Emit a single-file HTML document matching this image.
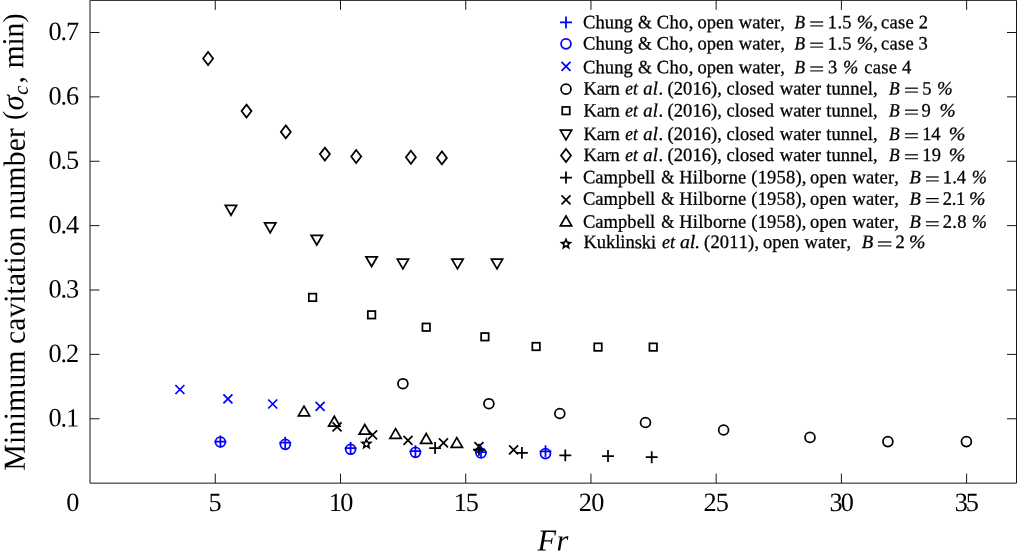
<!DOCTYPE html>
<html lang="en">
<head>
<meta charset="utf-8">
<title>Minimum cavitation number vs Fr</title>
<style>
html,body{margin:0;padding:0;background:#fff;}
body{width:1017px;height:557px;overflow:hidden;}
svg{display:block;will-change:transform;}
text{white-space:pre;font-kerning:none;text-rendering:geometricPrecision;}
</style>
</head>
<body>
<svg width="1017" height="557" viewBox="0 0 1017 557">
<rect width="1017" height="557" fill="#fff"/>
<g fill="none" stroke="#161616" stroke-width="1.0" stroke-linejoin="round">
<rect x="90.0" y="0.35" width="926.50" height="482.80"/>
<path d="M215.28 483.15V473.65M215.28 0.35V9.85M340.50 483.15V473.65M340.50 0.35V9.85M465.73 483.15V473.65M465.73 0.35V9.85M590.95 483.15V473.65M590.95 0.35V9.85M716.17 483.15V473.65M716.17 0.35V9.85M841.40 483.15V473.65M841.40 0.35V9.85M966.62 483.15V473.65M966.62 0.35V9.85M90.0 418.77H99.5M1016.5 418.77H1007.0M90.0 354.39H99.5M1016.5 354.39H1007.0M90.0 290.01H99.5M1016.5 290.01H1007.0M90.0 225.63H99.5M1016.5 225.63H1007.0M90.0 161.25H99.5M1016.5 161.25H1007.0M90.0 96.87H99.5M1016.5 96.87H1007.0M90.0 32.49H99.5M1016.5 32.49H1007.0"/>
</g>
<g font-family="'Liberation Serif', 'Times New Roman', serif" font-size="26.3" fill="#000">
<text transform="matrix(1 0.0005 0 1 66.30 510.9)">0</text>
<text transform="matrix(1 0.0005 0 1 208.57 510.9)">5</text>
<text transform="matrix(1 0.0005 0 1 328.69 510.9)" letter-spacing="-1.587">10</text>
<text transform="matrix(1 0.0005 0 1 453.79 510.9)" letter-spacing="-1.261">15</text>
<text transform="matrix(1 0.0005 0 1 578.84 510.9)" letter-spacing="-0.643">20</text>
<text transform="matrix(1 0.0005 0 1 703.54 510.9)" letter-spacing="-0.817">25</text>
<text transform="matrix(1 0.0005 0 1 829.44 510.9)" letter-spacing="-1.740">30</text>
<text transform="matrix(1 0.0005 0 1 954.84 510.9)" letter-spacing="-2.314">35</text>
<text transform="matrix(1 0.0005 0 1 48.4 426.37)" letter-spacing="-1.05">0.1</text>
<text transform="matrix(1 0.0005 0 1 48.4 361.99)" letter-spacing="-1.05">0.2</text>
<text transform="matrix(1 0.0005 0 1 48.4 297.61)" letter-spacing="-1.05">0.3</text>
<text transform="matrix(1 0.0005 0 1 48.4 233.23)" letter-spacing="-1.05">0.4</text>
<text transform="matrix(1 0.0005 0 1 48.4 168.85)" letter-spacing="-1.05">0.5</text>
<text transform="matrix(1 0.0005 0 1 48.4 104.47)" letter-spacing="-1.05">0.6</text>
<text transform="matrix(1 0.0005 0 1 48.4 40.09)" letter-spacing="-1.05">0.7</text>
</g>
<g font-family="'Liberation Serif', 'Times New Roman', serif" font-size="29.5" fill="#000">
<text transform="matrix(1 0.0005 0 1 537.6 550.5)" font-style="italic" font-size="30.4" letter-spacing="0.3">Fr</text>
<g transform="matrix(0.0005 -0.965 1 0 23.2 0)" font-size="30.6">
<text x="-487.62" y="1.7" letter-spacing="0.342">Minimum</text>
<text x="-356.40" y="1.7" letter-spacing="0.091">cavitation</text>
<text x="-227.49" y="1.7" letter-spacing="0.266">number</text>
<text x="-124.45" y="-0.8" font-size="28.2">(</text>
<text x="-114.53" y="0" font-style="italic" font-size="32">σ</text>
<text x="-98.26" y="4.5" font-style="italic" font-size="21">c</text>
<text x="-86.55" y="0">,</text>
<text x="-70.69" y="0" letter-spacing="-0.192">min</text>
<text x="-23.19" y="-0.8" font-size="28.2">)</text>
</g>
</g>
<path d="M175.40 385.00L184.40 394.00M175.40 394.00L184.40 385.00" fill="none" stroke="#0000ff" stroke-width="1.75"/>
<path d="M223.40 394.30L232.40 403.30M223.40 403.30L232.40 394.30" fill="none" stroke="#0000ff" stroke-width="1.75"/>
<path d="M268.20 399.50L277.20 408.50M268.20 408.50L277.20 399.50" fill="none" stroke="#0000ff" stroke-width="1.75"/>
<path d="M315.60 401.90L324.60 410.90M315.60 410.90L324.60 401.90" fill="none" stroke="#0000ff" stroke-width="1.75"/>
<circle cx="220.40" cy="442.00" r="4.95" fill="none" stroke="#0000ff" stroke-width="1.75"/>
<path d="M214.45 441.50H226.35M220.40 435.55V447.45" fill="none" stroke="#0000ff" stroke-width="1.75"/>
<circle cx="285.30" cy="444.35" r="4.95" fill="none" stroke="#0000ff" stroke-width="1.75"/>
<path d="M279.25 442.70H291.15M285.20 436.75V448.65" fill="none" stroke="#0000ff" stroke-width="1.75"/>
<circle cx="350.60" cy="449.30" r="4.95" fill="none" stroke="#0000ff" stroke-width="1.75"/>
<path d="M344.65 448.00H356.55M350.60 442.05V453.95" fill="none" stroke="#0000ff" stroke-width="1.75"/>
<circle cx="415.45" cy="452.35" r="4.95" fill="none" stroke="#0000ff" stroke-width="1.75"/>
<path d="M409.45 451.10H421.35M415.40 445.15V457.05" fill="none" stroke="#0000ff" stroke-width="1.75"/>
<circle cx="481.00" cy="453.00" r="4.95" fill="none" stroke="#0000ff" stroke-width="1.75"/>
<path d="M475.05 452.00H486.95M481.00 446.05V457.95" fill="none" stroke="#0000ff" stroke-width="1.75"/>
<circle cx="545.50" cy="453.60" r="4.95" fill="none" stroke="#0000ff" stroke-width="1.75"/>
<path d="M539.55 451.30H551.45M545.50 445.35V457.25" fill="none" stroke="#0000ff" stroke-width="1.75"/>
<path d="M208.10 52.00L213.10 58.50L208.10 65.00L203.10 58.50Z" fill="none" stroke="#000" stroke-width="1.75"/>
<path d="M246.50 104.60L251.50 111.10L246.50 117.60L241.50 111.10Z" fill="none" stroke="#000" stroke-width="1.75"/>
<path d="M285.80 125.40L290.80 131.90L285.80 138.40L280.80 131.90Z" fill="none" stroke="#000" stroke-width="1.75"/>
<path d="M324.90 147.60L329.90 154.10L324.90 160.60L319.90 154.10Z" fill="none" stroke="#000" stroke-width="1.75"/>
<path d="M356.20 150.00L361.20 156.50L356.20 163.00L351.20 156.50Z" fill="none" stroke="#000" stroke-width="1.75"/>
<path d="M410.90 150.80L415.90 157.30L410.90 163.80L405.90 157.30Z" fill="none" stroke="#000" stroke-width="1.75"/>
<path d="M441.90 151.40L446.90 157.90L441.90 164.40L436.90 157.90Z" fill="none" stroke="#000" stroke-width="1.75"/>
<path d="M225.37 205.40L236.63 205.40L231.00 215.14Z" fill="none" stroke="#000" stroke-width="1.75"/>
<path d="M264.57 222.90L275.83 222.90L270.20 232.64Z" fill="none" stroke="#000" stroke-width="1.75"/>
<path d="M311.17 235.30L322.43 235.30L316.80 245.04Z" fill="none" stroke="#000" stroke-width="1.75"/>
<path d="M365.97 256.80L377.23 256.80L371.60 266.54Z" fill="none" stroke="#000" stroke-width="1.75"/>
<path d="M397.27 259.10L408.53 259.10L402.90 268.84Z" fill="none" stroke="#000" stroke-width="1.75"/>
<path d="M451.87 259.10L463.13 259.10L457.50 268.84Z" fill="none" stroke="#000" stroke-width="1.75"/>
<path d="M491.37 259.10L502.63 259.10L497.00 268.84Z" fill="none" stroke="#000" stroke-width="1.75"/>
<rect x="308.85" y="293.65" width="7.5" height="7.5" fill="none" stroke="#000" stroke-width="1.75"/>
<rect x="367.85" y="311.05" width="7.5" height="7.5" fill="none" stroke="#000" stroke-width="1.75"/>
<rect x="422.45" y="323.45" width="7.5" height="7.5" fill="none" stroke="#000" stroke-width="1.75"/>
<rect x="481.15" y="333.05" width="7.5" height="7.5" fill="none" stroke="#000" stroke-width="1.75"/>
<rect x="532.35" y="342.75" width="7.5" height="7.5" fill="none" stroke="#000" stroke-width="1.75"/>
<rect x="594.25" y="343.35" width="7.5" height="7.5" fill="none" stroke="#000" stroke-width="1.75"/>
<rect x="649.45" y="343.35" width="7.5" height="7.5" fill="none" stroke="#000" stroke-width="1.75"/>
<circle cx="402.90" cy="383.70" r="4.95" fill="none" stroke="#000" stroke-width="1.75"/>
<circle cx="488.90" cy="403.70" r="4.95" fill="none" stroke="#000" stroke-width="1.75"/>
<circle cx="559.80" cy="413.50" r="4.95" fill="none" stroke="#000" stroke-width="1.75"/>
<circle cx="645.50" cy="422.50" r="4.95" fill="none" stroke="#000" stroke-width="1.75"/>
<circle cx="723.60" cy="430.00" r="4.95" fill="none" stroke="#000" stroke-width="1.75"/>
<circle cx="810.00" cy="437.40" r="4.95" fill="none" stroke="#000" stroke-width="1.75"/>
<circle cx="887.90" cy="441.60" r="4.95" fill="none" stroke="#000" stroke-width="1.75"/>
<circle cx="966.40" cy="441.60" r="4.95" fill="none" stroke="#000" stroke-width="1.75"/>
<path d="M298.37 415.90L309.63 415.90L304.00 406.16Z" fill="none" stroke="#000" stroke-width="1.75"/>
<path d="M328.67 426.00L339.93 426.00L334.30 416.26Z" fill="none" stroke="#000" stroke-width="1.75"/>
<path d="M359.17 434.20L370.43 434.20L364.80 424.46Z" fill="none" stroke="#000" stroke-width="1.75"/>
<path d="M389.97 438.40L401.23 438.40L395.60 428.66Z" fill="none" stroke="#000" stroke-width="1.75"/>
<path d="M420.57 443.30L431.83 443.30L426.20 433.56Z" fill="none" stroke="#000" stroke-width="1.75"/>
<path d="M451.17 447.40L462.43 447.40L456.80 437.66Z" fill="none" stroke="#000" stroke-width="1.75"/>
<path d="M332.60 422.40L341.60 431.40M332.60 431.40L341.60 422.40" fill="none" stroke="#000" stroke-width="1.75"/>
<path d="M368.10 430.40L377.10 439.40M368.10 439.40L377.10 430.40" fill="none" stroke="#000" stroke-width="1.75"/>
<path d="M403.50 435.90L412.50 444.90M403.50 444.90L412.50 435.90" fill="none" stroke="#000" stroke-width="1.75"/>
<path d="M439.00 438.40L448.00 447.40M439.00 447.40L448.00 438.40" fill="none" stroke="#000" stroke-width="1.75"/>
<path d="M474.40 442.20L483.40 451.20M474.40 451.20L483.40 442.20" fill="none" stroke="#000" stroke-width="1.75"/>
<path d="M509.10 445.30L518.10 454.30M509.10 454.30L518.10 445.30" fill="none" stroke="#000" stroke-width="1.75"/>
<path d="M429.15 448.00H441.05M435.10 442.05V453.95" fill="none" stroke="#000" stroke-width="1.75"/>
<path d="M472.95 449.70H484.85M478.90 443.75V455.65" fill="none" stroke="#000" stroke-width="1.75"/>
<path d="M515.95 452.90H527.85M521.90 446.95V458.85" fill="none" stroke="#000" stroke-width="1.75"/>
<path d="M559.35 455.40H571.25M565.30 449.45V461.35" fill="none" stroke="#000" stroke-width="1.75"/>
<path d="M602.05 456.00H613.95M608.00 450.05V461.95" fill="none" stroke="#000" stroke-width="1.75"/>
<path d="M645.75 457.20H657.65M651.70 451.25V463.15" fill="none" stroke="#000" stroke-width="1.75"/>
<path d="M366.40 437.10L368.13 441.51L372.87 441.80L369.21 444.81L370.40 449.40L366.40 446.85L362.40 449.40L363.59 444.81L359.93 441.80L364.67 441.51ZM366.40 445.70L364.69 444.46L365.34 442.44L367.46 442.44L368.11 444.46Z" fill="#000" fill-rule="evenodd" stroke="none"/>
<path d="M560.05 22.45H571.95M566.00 16.50V28.40" fill="none" stroke="#0000ff" stroke-width="1.75"/>
<circle cx="566.00" cy="43.80" r="4.95" fill="none" stroke="#0000ff" stroke-width="1.75"/>
<path d="M561.50 61.80L570.50 70.80M561.50 70.80L570.50 61.80" fill="none" stroke="#0000ff" stroke-width="1.75"/>
<circle cx="566.00" cy="89.15" r="4.95" fill="none" stroke="#000" stroke-width="1.75"/>
<rect x="562.25" y="106.95" width="7.5" height="7.5" fill="none" stroke="#000" stroke-width="1.75"/>
<path d="M560.37 130.10L571.63 130.10L566.00 139.84Z" fill="none" stroke="#000" stroke-width="1.75"/>
<path d="M566.00 149.00L571.00 155.50L566.00 162.00L561.00 155.50Z" fill="none" stroke="#000" stroke-width="1.75"/>
<path d="M560.05 177.50H571.95M566.00 171.55V183.45" fill="none" stroke="#000" stroke-width="1.75"/>
<path d="M561.50 195.40L570.50 204.40M561.50 204.40L570.50 195.40" fill="none" stroke="#000" stroke-width="1.75"/>
<path d="M560.37 225.80L571.63 225.80L566.00 216.06Z" fill="none" stroke="#000" stroke-width="1.75"/>
<path d="M566.00 237.20L567.73 241.61L572.47 241.90L568.81 244.91L570.00 249.50L566.00 246.95L562.00 249.50L563.19 244.91L559.53 241.90L564.27 241.61ZM566.00 245.80L564.29 244.56L564.94 242.54L567.06 242.54L567.71 244.56Z" fill="#000" fill-rule="evenodd" stroke="none"/>
<g font-family="'Liberation Serif', 'Times New Roman', serif" font-size="18.9" fill="#000" stroke="#000" stroke-width="0.28">
<text transform="matrix(0.9800 0.0005 0 1 583.04 28.2)" letter-spacing="0.080">Chung</text>
<text transform="matrix(0.9384 0.0005 0 1 638.12 28.2)">&amp;</text>
<text transform="matrix(0.9800 0.0005 0 1 656.74 28.2)" letter-spacing="0.381">Cho,</text>
<text transform="matrix(0.9800 0.0005 0 1 697.39 28.2)" letter-spacing="0.028">open</text>
<text transform="matrix(0.9800 0.0005 0 1 738.78 28.2)" letter-spacing="0.056">water,</text>
<text transform="matrix(0.9129 0.0005 0 1 794.54 28.2)" font-style="italic">B</text>
<text transform="translate(809.28 30.3) matrix(1.399 0.0005 0 1 0 0)" x="0" y="0" stroke="#000" stroke-width="0.35">=</text>
<text transform="matrix(0.9800 0.0005 0 1 827.87 28.2)" letter-spacing="0.306">1.5</text>
<text transform="matrix(1.0527 0.0005 0 1 856.86 28.2)" font-style="italic">%</text>
<text transform="matrix(0.9800 0.0005 0 1 873.19 28.2)">,</text>
<text transform="matrix(0.9800 0.0005 0 1 880.89 28.2)" letter-spacing="0.298">case</text>
<text transform="matrix(0.9800 0.0005 0 1 918.69 28.2)">2</text>
<text transform="matrix(0.9800 0.0005 0 1 583.04 49.5)" letter-spacing="0.080">Chung</text>
<text transform="matrix(0.9384 0.0005 0 1 638.12 49.5)">&amp;</text>
<text transform="matrix(0.9800 0.0005 0 1 656.74 49.5)" letter-spacing="0.381">Cho,</text>
<text transform="matrix(0.9800 0.0005 0 1 697.39 49.5)" letter-spacing="0.028">open</text>
<text transform="matrix(0.9800 0.0005 0 1 738.78 49.5)" letter-spacing="0.056">water,</text>
<text transform="matrix(0.9129 0.0005 0 1 794.54 49.5)" font-style="italic">B</text>
<text transform="translate(809.28 51.6) matrix(1.399 0.0005 0 1 0 0)" x="0" y="0" stroke="#000" stroke-width="0.35">=</text>
<text transform="matrix(0.9800 0.0005 0 1 827.87 49.5)" letter-spacing="0.306">1.5</text>
<text transform="matrix(1.0527 0.0005 0 1 856.86 49.5)" font-style="italic">%</text>
<text transform="matrix(0.9800 0.0005 0 1 873.19 49.5)">,</text>
<text transform="matrix(0.9800 0.0005 0 1 880.89 49.5)" letter-spacing="0.298">case</text>
<text transform="matrix(0.9800 0.0005 0 1 918.61 49.5)">3</text>
<text transform="matrix(0.9800 0.0005 0 1 583.04 73.25)" letter-spacing="0.080">Chung</text>
<text transform="matrix(0.9384 0.0005 0 1 638.12 73.25)">&amp;</text>
<text transform="matrix(0.9800 0.0005 0 1 656.74 73.25)" letter-spacing="0.381">Cho,</text>
<text transform="matrix(0.9800 0.0005 0 1 697.39 73.25)" letter-spacing="0.028">open</text>
<text transform="matrix(0.9800 0.0005 0 1 738.78 73.25)" letter-spacing="0.056">water,</text>
<text transform="matrix(0.9129 0.0005 0 1 794.54 73.25)" font-style="italic">B</text>
<text transform="translate(809.28 75.35) matrix(1.399 0.0005 0 1 0 0)" x="0" y="0" stroke="#000" stroke-width="0.35">=</text>
<text transform="matrix(0.9800 0.0005 0 1 827.91 73.25)">3</text>
<text transform="matrix(0.9717 0.0005 0 1 842.95 73.25)" font-style="italic">%</text>
<text transform="matrix(0.9800 0.0005 0 1 864.19 73.25)" letter-spacing="0.298">case</text>
<text transform="matrix(0.9800 0.0005 0 1 901.94 73.25)">4</text>
<text transform="matrix(0.9800 0.0005 0 1 583.47 94.4)" letter-spacing="-0.208">Karn</text>
<text transform="matrix(0.9154 0.0005 0 1 625.37 94.4)" font-style="italic">et</text>
<text transform="matrix(0.9800 0.0005 0 1 643.35 94.4)" font-style="italic" letter-spacing="0.053">al</text>
<text transform="matrix(0.9800 0.0005 0 1 658.38 94.4)">.</text>
<text transform="matrix(0.9800 0.0005 0 1 667.59 94.4)" letter-spacing="0.046">(2016),</text>
<text transform="matrix(0.9800 0.0005 0 1 726.39 94.4)" letter-spacing="0.074">closed</text>
<text transform="matrix(0.9800 0.0005 0 1 779.78 94.4)">water</text>
<text transform="matrix(0.9800 0.0005 0 1 826.22 94.4)" letter-spacing="0.089">tunnel,</text>
<text transform="matrix(0.9220 0.0005 0 1 889.04 94.4)" font-style="italic">B</text>
<text transform="translate(904.08 96.5) matrix(1.399 0.0005 0 1 0 0)" x="0" y="0" stroke="#000" stroke-width="0.35">=</text>
<text transform="matrix(0.9800 0.0005 0 1 922.32 94.4)">5</text>
<text transform="matrix(0.9938 0.0005 0 1 937.03 94.4)" font-style="italic">%</text>
<text transform="matrix(0.9800 0.0005 0 1 583.47 116.4)" letter-spacing="-0.208">Karn</text>
<text transform="matrix(0.9154 0.0005 0 1 625.37 116.4)" font-style="italic">et</text>
<text transform="matrix(0.9800 0.0005 0 1 643.35 116.4)" font-style="italic" letter-spacing="0.053">al</text>
<text transform="matrix(0.9800 0.0005 0 1 658.38 116.4)">.</text>
<text transform="matrix(0.9800 0.0005 0 1 667.59 116.4)" letter-spacing="0.046">(2016),</text>
<text transform="matrix(0.9800 0.0005 0 1 726.39 116.4)" letter-spacing="0.074">closed</text>
<text transform="matrix(0.9800 0.0005 0 1 779.78 116.4)">water</text>
<text transform="matrix(0.9800 0.0005 0 1 826.22 116.4)" letter-spacing="0.089">tunnel,</text>
<text transform="matrix(0.9220 0.0005 0 1 889.04 116.4)" font-style="italic">B</text>
<text transform="translate(904.08 118.5) matrix(1.399 0.0005 0 1 0 0)" x="0" y="0" stroke="#000" stroke-width="0.35">=</text>
<text transform="matrix(0.9800 0.0005 0 1 921.50 116.4)">9</text>
<text transform="matrix(1.0232 0.0005 0 1 939.50 116.4)" font-style="italic">%</text>
<text transform="matrix(0.9800 0.0005 0 1 583.47 139.9)" letter-spacing="-0.208">Karn</text>
<text transform="matrix(0.9154 0.0005 0 1 625.37 139.9)" font-style="italic">et</text>
<text transform="matrix(0.9800 0.0005 0 1 643.35 139.9)" font-style="italic" letter-spacing="0.053">al</text>
<text transform="matrix(0.9800 0.0005 0 1 658.38 139.9)">.</text>
<text transform="matrix(0.9800 0.0005 0 1 667.59 139.9)" letter-spacing="0.046">(2016),</text>
<text transform="matrix(0.9800 0.0005 0 1 726.39 139.9)" letter-spacing="0.074">closed</text>
<text transform="matrix(0.9800 0.0005 0 1 779.78 139.9)">water</text>
<text transform="matrix(0.9800 0.0005 0 1 826.22 139.9)" letter-spacing="0.089">tunnel,</text>
<text transform="matrix(0.9220 0.0005 0 1 889.04 139.9)" font-style="italic">B</text>
<text transform="translate(904.08 142.0) matrix(1.399 0.0005 0 1 0 0)" x="0" y="0" stroke="#000" stroke-width="0.35">=</text>
<text transform="matrix(0.9800 0.0005 0 1 922.17 139.9)" letter-spacing="-0.107">14</text>
<text transform="matrix(1.0600 0.0005 0 1 948.76 139.9)" font-style="italic">%</text>
<text transform="matrix(0.9800 0.0005 0 1 583.47 160.9)" letter-spacing="-0.208">Karn</text>
<text transform="matrix(0.9154 0.0005 0 1 625.37 160.9)" font-style="italic">et</text>
<text transform="matrix(0.9800 0.0005 0 1 643.35 160.9)" font-style="italic" letter-spacing="0.053">al</text>
<text transform="matrix(0.9800 0.0005 0 1 658.38 160.9)">.</text>
<text transform="matrix(0.9800 0.0005 0 1 667.59 160.9)" letter-spacing="0.046">(2016),</text>
<text transform="matrix(0.9800 0.0005 0 1 726.39 160.9)" letter-spacing="0.074">closed</text>
<text transform="matrix(0.9800 0.0005 0 1 779.78 160.9)">water</text>
<text transform="matrix(0.9800 0.0005 0 1 826.22 160.9)" letter-spacing="0.089">tunnel,</text>
<text transform="matrix(0.9220 0.0005 0 1 889.04 160.9)" font-style="italic">B</text>
<text transform="translate(904.08 163.0) matrix(1.399 0.0005 0 1 0 0)" x="0" y="0" stroke="#000" stroke-width="0.35">=</text>
<text transform="matrix(0.9800 0.0005 0 1 922.17 160.9)" letter-spacing="0.373">19</text>
<text transform="matrix(1.0600 0.0005 0 1 948.76 160.9)" font-style="italic">%</text>
<text transform="matrix(0.9800 0.0005 0 1 582.94 183.25)" letter-spacing="0.046">Campbell</text>
<text transform="matrix(0.8871 0.0005 0 1 661.16 183.25)">&amp;</text>
<text transform="matrix(0.9800 0.0005 0 1 679.32 183.25)" letter-spacing="0.173">Hilborne</text>
<text transform="matrix(0.9800 0.0005 0 1 751.29 183.25)" letter-spacing="0.199">(1958),</text>
<text transform="matrix(0.9800 0.0005 0 1 810.09 183.25)" letter-spacing="0.130">open</text>
<text transform="matrix(0.9800 0.0005 0 1 852.38 183.25)" letter-spacing="0.147">water,</text>
<text transform="matrix(0.9768 0.0005 0 1 909.53 183.25)" font-style="italic">B</text>
<text transform="translate(924.90 185.35) matrix(1.376 0.0005 0 1 0 0)" x="0" y="0" stroke="#000" stroke-width="0.35">=</text>
<text transform="matrix(0.9800 0.0005 0 1 942.87 183.25)" letter-spacing="0.033">1.4</text>
<text transform="matrix(0.9643 0.0005 0 1 971.66 183.25)" font-style="italic">%</text>
<text transform="matrix(0.9800 0.0005 0 1 582.94 204.7)" letter-spacing="0.046">Campbell</text>
<text transform="matrix(0.8871 0.0005 0 1 661.16 204.7)">&amp;</text>
<text transform="matrix(0.9800 0.0005 0 1 679.32 204.7)" letter-spacing="0.173">Hilborne</text>
<text transform="matrix(0.9800 0.0005 0 1 751.29 204.7)" letter-spacing="0.199">(1958),</text>
<text transform="matrix(0.9800 0.0005 0 1 810.09 204.7)" letter-spacing="0.130">open</text>
<text transform="matrix(0.9800 0.0005 0 1 852.38 204.7)" letter-spacing="0.147">water,</text>
<text transform="matrix(0.9768 0.0005 0 1 909.53 204.7)" font-style="italic">B</text>
<text transform="translate(924.90 206.79999999999998) matrix(1.376 0.0005 0 1 0 0)" x="0" y="0" stroke="#000" stroke-width="0.35">=</text>
<text transform="matrix(0.9800 0.0005 0 1 942.79 204.7)" letter-spacing="-0.319">2.1</text>
<text transform="matrix(1.0453 0.0005 0 1 968.97 204.7)" font-style="italic">%</text>
<text transform="matrix(0.9800 0.0005 0 1 582.94 227.8)" letter-spacing="0.046">Campbell</text>
<text transform="matrix(0.8871 0.0005 0 1 661.16 227.8)">&amp;</text>
<text transform="matrix(0.9800 0.0005 0 1 679.32 227.8)" letter-spacing="0.173">Hilborne</text>
<text transform="matrix(0.9800 0.0005 0 1 751.29 227.8)" letter-spacing="0.199">(1958),</text>
<text transform="matrix(0.9800 0.0005 0 1 810.09 227.8)" letter-spacing="0.130">open</text>
<text transform="matrix(0.9800 0.0005 0 1 852.38 227.8)" letter-spacing="0.147">water,</text>
<text transform="matrix(0.9768 0.0005 0 1 909.53 227.8)" font-style="italic">B</text>
<text transform="translate(924.90 229.9) matrix(1.376 0.0005 0 1 0 0)" x="0" y="0" stroke="#000" stroke-width="0.35">=</text>
<text transform="matrix(0.9800 0.0005 0 1 942.79 227.8)" letter-spacing="0.289">2.8</text>
<text transform="matrix(0.9643 0.0005 0 1 971.66 227.8)" font-style="italic">%</text>
<text transform="matrix(0.9800 0.0005 0 1 583.47 248.1)" letter-spacing="-0.036">Kuklinski</text>
<text transform="matrix(0.9526 0.0005 0 1 661.95 248.1)" font-style="italic">et</text>
<text transform="matrix(1.0493 0.0005 0 1 679.91 248.1)" font-style="italic">al</text>
<text transform="matrix(0.9800 0.0005 0 1 694.78 248.1)">.</text>
<text transform="matrix(0.9800 0.0005 0 1 704.04 248.1)" letter-spacing="0.174">(2011),</text>
<text transform="matrix(0.9800 0.0005 0 1 762.99 248.1)" letter-spacing="0.028">open</text>
<text transform="matrix(0.9800 0.0005 0 1 804.38 248.1)" letter-spacing="0.229">water,</text>
<text transform="matrix(0.9950 0.0005 0 1 861.73 248.1)" font-style="italic">B</text>
<text transform="translate(876.71 250.2) matrix(1.472 0.0005 0 1 0 0)" x="0" y="0" stroke="#000" stroke-width="0.35">=</text>
<text transform="matrix(0.9800 0.0005 0 1 895.59 248.1)">2</text>
<text transform="matrix(1.0453 0.0005 0 1 908.97 248.1)" font-style="italic">%</text>
</g>
</svg>
</body>
</html>
